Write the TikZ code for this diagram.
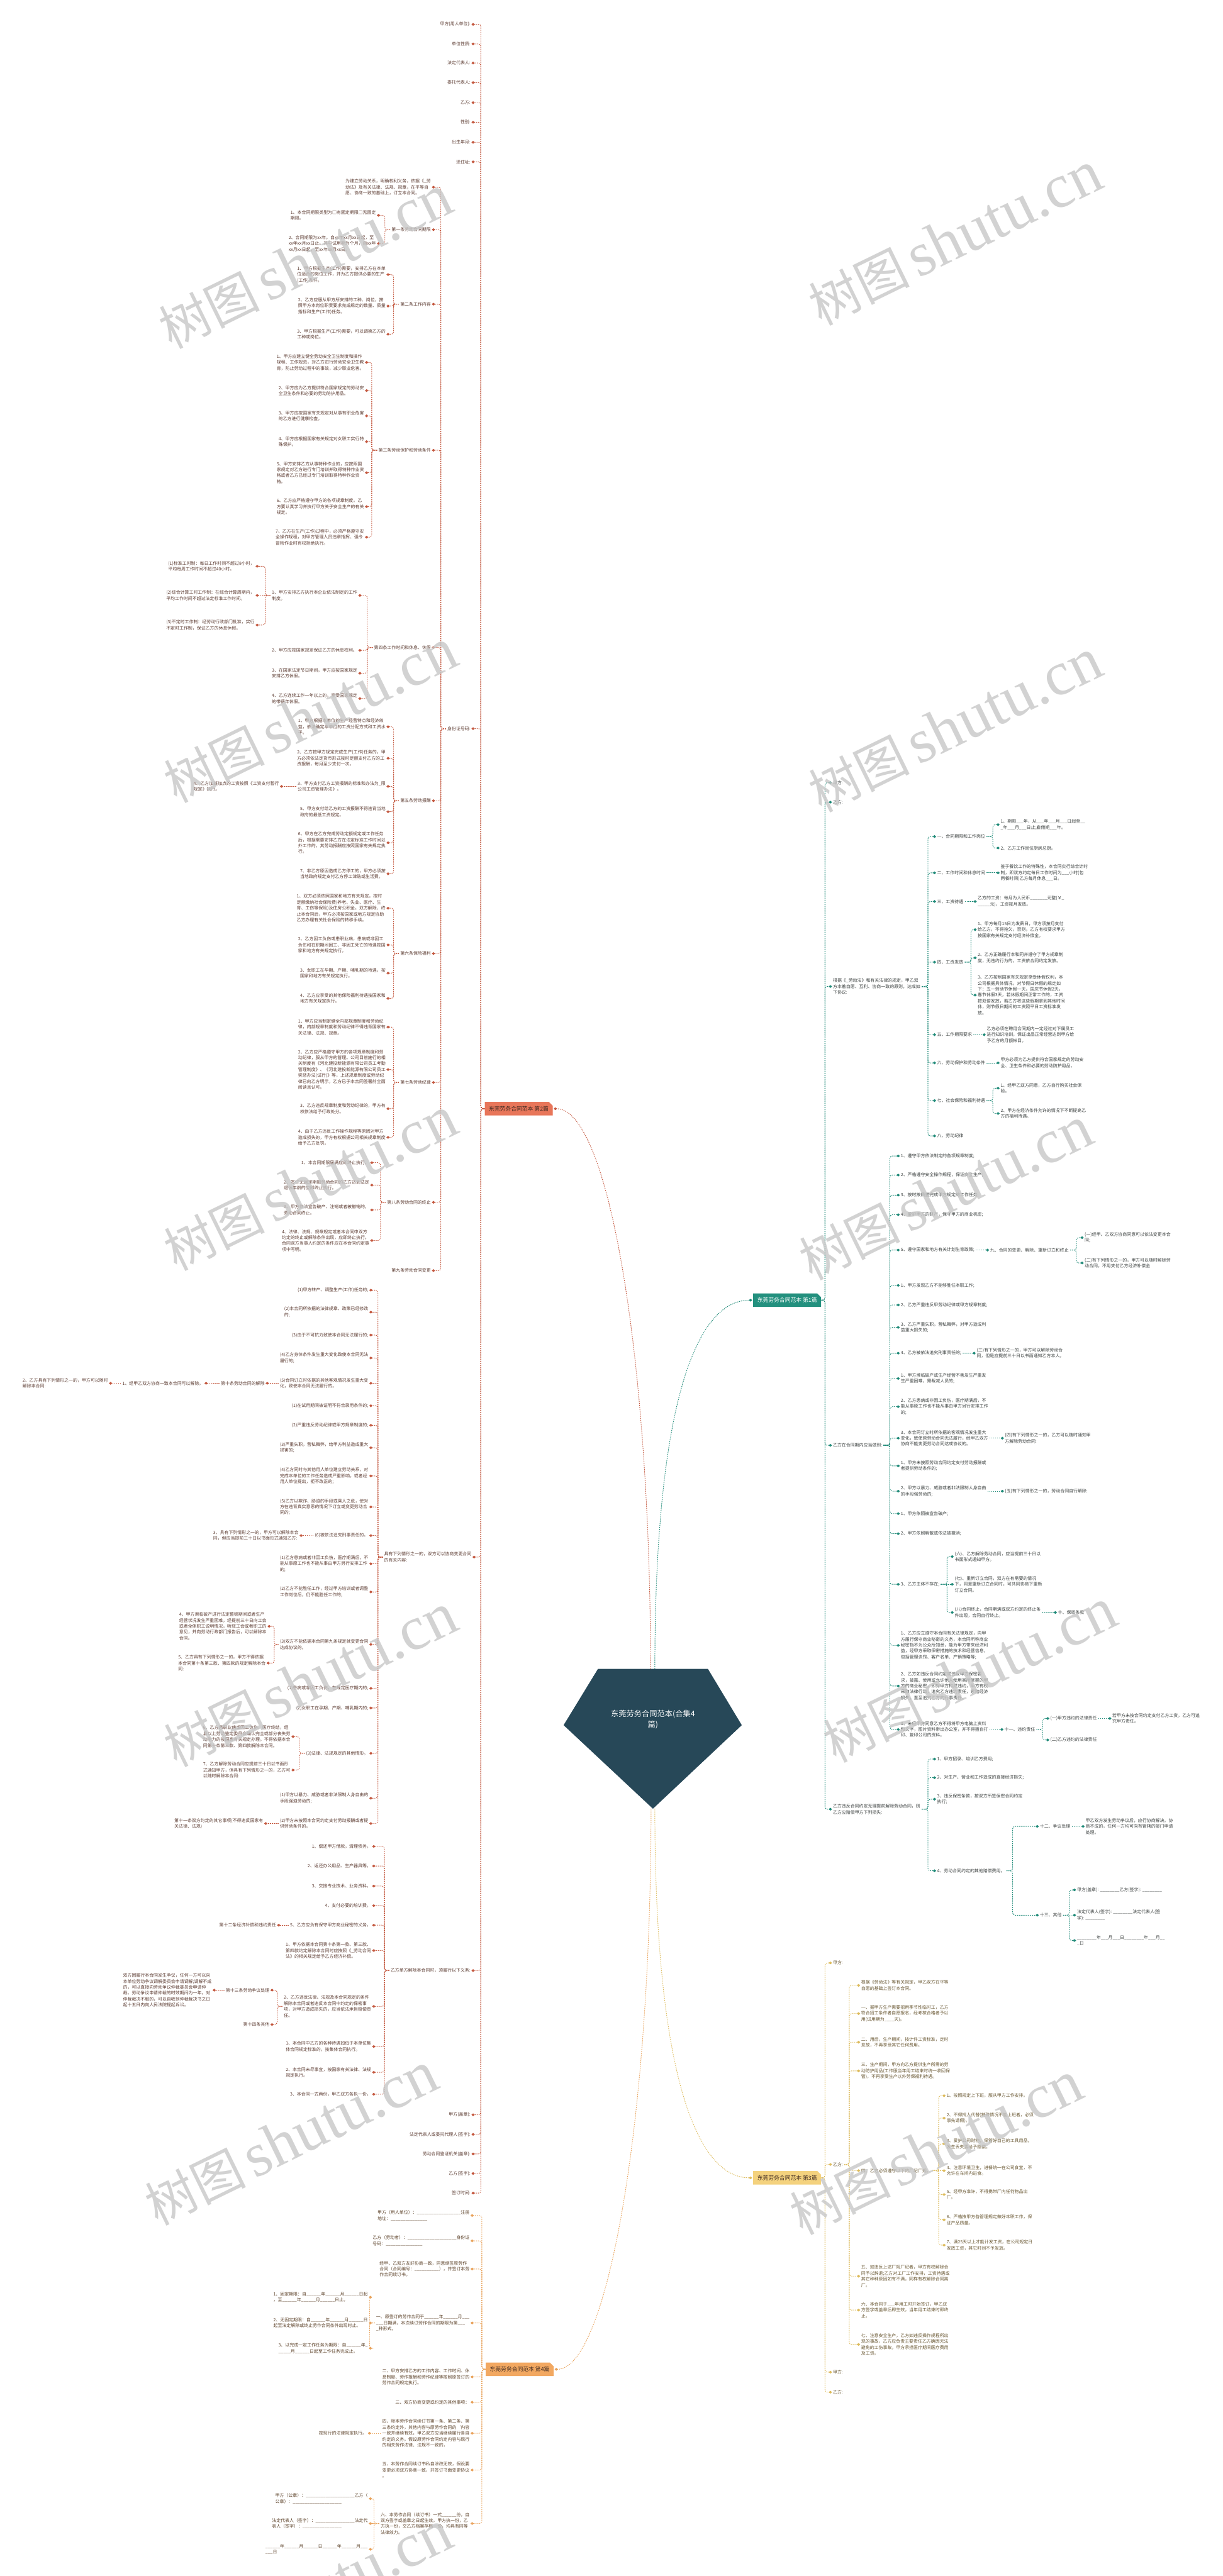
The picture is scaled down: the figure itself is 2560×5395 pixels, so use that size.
\documentclass[tikz,border=0pt]{standalone}
\usepackage{fontspec}
\setmainfont{Noto Sans CJK SC}
\newfontfamily\wmfont{Liberation Serif}
\usepackage{varwidth}
\usetikzlibrary{calc}
\XeTeXlinebreaklocale "zh"
\XeTeXlinebreakskip=0pt plus 1pt
\definecolor{cCen}{HTML}{274858}
\definecolor{lRed}{HTML}{C4583F}
\definecolor{lTeal}{HTML}{1F8A78}
\definecolor{lYel}{HTML}{DDBB5C}
\definecolor{lOra}{HTML}{E9A35C}
\definecolor{fRed}{HTML}{E8765A}
\definecolor{fTeal}{HTML}{23907E}
\definecolor{fYel}{HTML}{F4D27E}
\definecolor{fOra}{HTML}{F2A861}
\definecolor{tRed}{HTML}{5B3A30}
\definecolor{tTeal}{HTML}{3A3F3E}
\definecolor{tYel}{HTML}{66542E}
\definecolor{tOra}{HTML}{5C4128}
\definecolor{hdt}{HTML}{3F2A22}
\pgfdeclarelayer{bg}\pgfsetlayers{bg,main}
\tikzset{
 base/.style={inner sep=0pt,outer sep=0pt,font=\fontsize{13}{17.6}\selectfont},
 tw/.style={base,execute at begin node={\begin{varwidth}{93mm}\raggedright},execute at end node={\end{varwidth}}},
 tx/.style={base,align=left},
 lR/.style={tw,anchor=east,text=tRed}, lRx/.style={tx,anchor=east,text=tRed},
 lO/.style={tw,anchor=east,text=tOra}, lOx/.style={tx,anchor=east,text=tOra},
 rT/.style={tw,anchor=west,text=tTeal}, rTx/.style={tx,anchor=west,text=tTeal},
 rY/.style={tw,anchor=west,text=tYel},
 hdr/.style={inner sep=0pt,minimum width=71mm,minimum height=14mm,font=\fontsize{16.5}{18}\selectfont},
 ctext/.style={inner sep=0pt,align=center,text=white,font=\fontsize{23}{31}\selectfont},
 ln/.style={line width=1.8pt,dash pattern=on 2.8pt off 2.8pt,rounded corners=2.5mm},
 wm/.style={rotate=26,inner sep=0pt,text=black!22,text opacity=0.8}
}
\newcommand\dmE[2]{\fill[#1] ($(#2.east)+(2,0)$) -- ++(3.5,-3) -- ++(3.5,3) -- ++(-3.5,3) -- cycle;}
\newcommand\dmW[2]{\fill[#1] ($(#2.west)+(-2,0)$) -- ++(-3.5,-3) -- ++(-3.5,3) -- ++(3.5,3) -- cycle;}
\newcommand\Lc[4][14]{\draw[ln,draw=#2] ($(#3.west)+(-3,0)$) -- ($(#3.west)+(-#1,0)$) |- ($(#4.east)+(8,0)$); \dmE{#2}{#4}}
\newcommand\Lz[3]{\draw[ln,draw=#1] ($(#2.west)+(-3,0)$) -- ($(#3.east)+(8,0)$); \dmE{#1}{#3}}
\newcommand\Rc[4][16]{\draw[ln,draw=#2] ($(#3.east)+(3,0)$) -- ($(#3.east)+(#1,0)$) |- ($(#4.west)+(-8,0)$); \dmW{#2}{#4}}
\newcommand\Rz[3]{\draw[ln,draw=#1] ($(#2.east)+(3,0)$) -- ($(#3.west)+(-8,0)$); \dmW{#1}{#3}}
\newcommand\hdrbox[2]{\begin{pgfonlayer}{bg}\fill[#2] (#1.south west) -- (#1.north west) -- ($(#1.north east)+(-8,0)$) -- ($(#1.north east)+(0,8)$) -- (#1.south east) -- cycle;\end{pgfonlayer}}
\begin{document}
\catcode`\_=12
\begin{tikzpicture}[x=0.5mm,y=-0.5mm]
\useasboundingbox (0,0) rectangle (2560,5395);
\begin{pgfonlayer}{bg}\fill[white] (0,0) rectangle (2560,5395);\end{pgfonlayer}
% ---------- centre ----------
\fill[cCen] (1252,3495) -- (1482,3495) -- (1553,3613) -- (1367,3788) -- (1180,3613) -- cycle;
\node[ctext] (root) at (1367,3601) {东莞劳务合同范本(合集4\\篇)};
\coordinate (rtR) at (1362,3495); \coordinate (rtT) at (1371,3495);
\coordinate (rbY) at (1371,3788); \coordinate (rbO) at (1363,3788);
% ---------- headers ----------
\node[hdr,text=hdt] (hR) at (1086,2322) {东莞劳务合同范本 第2篇};
\node[hdr,text=hdt] (hO) at (1088,4962) {东莞劳务合同范本 第4篇};
\node[hdr,text=white] (hT) at (1648,2723) {东莞劳务合同范本 第1篇};
\node[hdr,text=hdt] (hY) at (1648,4561) {东莞劳务合同范本 第3篇};
\hdrbox{hR}{fRed}\hdrbox{hO}{fOra}\hdrbox{hT}{fTeal}\hdrbox{hY}{fYel}
\draw[ln,draw=lRed] (rtR) .. controls (1362,2850) and (1275,2322) .. ($(hR.east)+(8,0)$); \dmE{lRed}{hR}
\draw[ln,draw=lTeal] (rtT) .. controls (1371,2950) and (1455,2723) .. ($(hT.west)+(-8,0)$); \dmW{lTeal}{hT}
\draw[ln,draw=lYel] (rbY) .. controls (1371,4330) and (1455,4561) .. ($(hY.west)+(-8,0)$); \dmW{lYel}{hY}
\draw[ln,draw=lOra] (rbO) .. controls (1363,4450) and (1270,4962) .. ($(hO.east)+(8,0)$); \dmE{lOra}{hO}
% ================= 第2篇 (red) =================
\node[lR] (r1) at (985,51) {甲方(用人单位):};
\node[lR] (r2) at (985,92) {单位性质:};
\node[lR] (r3) at (985,132) {法定代表人:};
\node[lR] (r4) at (985,173) {委托代表人:};
\node[lR] (r5) at (985,215) {乙方:};
\node[lR] (r6) at (985,256) {性别:};
\node[lR] (r7) at (985,298) {出生年月:};
\node[lR] (r8) at (985,339) {现住址:};
\node[lR] (r9) at (985,1526) {身份证号码:};
\node[lR] (r10) at (987,3261) {具有下列情形之一的，双方可以协商变更合同的有关内容:};
\node[lR] (r11) at (985,4127) {乙方单方解除本合同时，须履行以下义务:};
\node[lR] (r12) at (985,4429) {甲方(盖章):};
\node[lR] (r13) at (985,4470) {法定代表人或委托代理人(签字):};
\node[lR] (r14) at (985,4511) {劳动合同鉴证机关(盖章):};
\node[lR] (r15) at (985,4552) {乙方(签字):};
\node[lR] (r16) at (985,4593) {签订时间:};
\foreach \nn in {r1,r2,r3,r4,r5,r6,r7,r8,r9,r10,r11,r12,r13,r14,r15,r16} {\Lc[8]{lRed}{hR}{\nn}}
\node[lR] (r9a) at (902,392) {为建立劳动关系，明确权利义务，依据《_劳动法》及有关法律、法规、规章，在平等自愿、协商一致的基础上，订立本合同。};
\node[lR] (r9b) at (902,481) {第一条劳动合同期限};
\node[lR] (r9c) at (902,637) {第二条工作内容};
\node[lR] (r9d) at (902,943) {第三条劳动保护和劳动条件};
\node[lR] (r9e) at (902,1356) {第四条工作时间和休息、休假};
\node[lR] (r9f) at (902,1677) {第五条劳动报酬};
\node[lR] (r9g) at (902,1997) {第六条保险福利};
\node[lR] (r9h) at (902,2267) {第七条劳动纪律};
\node[lR] (r9i) at (902,2518) {第八条劳动合同的终止};
\node[lR] (r9j) at (902,2661) {第九条劳动合同变更};
\foreach \nn in {r9a,r9b,r9c,r9d,r9e,r9f,r9g,r9h,r9i,r9j} {\Lc{lRed}{r9}{\nn}}
\node[lR] (b1) at (787,451) {1、本合同期限类型为□有固定期限□无固定期限。};
\node[lR] (b2) at (787,510) {2、合同期限为xx年。自xx年xx月xx日起，至xx年xx月xx日止。其中试用期为个月，自xx年xx月xx日起，至xx年xx月xx日。};
\foreach \nn in {b1,b2} {\Lc{lRed}{r9b}{\nn}}
\node[lR] (c1) at (807,575) {1、甲方根据生产(工作)需要，安排乙方在本单位适合的岗位工作，并为乙方提供必要的生产(工作)条件。};
\node[lR] (c2) at (807,641) {2、乙方应服从甲方所安排的工种、岗位，按照甲方本岗位职责要求完成规定的数量、质量指标和生产(工作)任务。};
\node[lR] (c3) at (807,700) {3、甲方根据生产(工作)需要，可以调换乙方的工种或岗位。};
\foreach \nn in {c1,c2,c3} {\Lc{lRed}{r9c}{\nn}}
\node[lR] (d1) at (762,759) {1、甲方应建立健全劳动安全卫生制度和操作规程、工作规范，对乙方进行劳动安全卫生教育，防止劳动过程中的事故，减少职业危害。};
\node[lR] (d2) at (762,818) {2、甲方应为乙方提供符合国家规定的劳动安全卫生条件和必要的劳动防护用品。};
\node[lR] (d3) at (762,871) {3、甲方应按国家有关规定对从事有职业危害的乙方进行健康检查。};
\node[lR] (d4) at (762,925) {4、甲方应根据国家有关规定对女职工实行特殊保护。};
\node[lR] (d5) at (762,990) {5、甲方安排乙方从事特种作业的，应按照国家规定对乙方进行专门培训并取得特种作业资格或者乙方已经过专门培训取得特种作业资格。};
\node[lR] (d6) at (762,1061) {6、乙方应严格遵守甲方的各项规章制度。乙方要认真学习并执行甲方关于安全生产的有关规定。};
\node[lR] (d7) at (762,1125) {7、乙方在生产(工作)过程中，必须严格遵守安全操作规程，对甲方管理人员违章指挥、强令冒险作业时有权拒绝执行。};
\foreach \nn in {d1,d2,d3,d4,d5,d6,d7} {\Lc{lRed}{r9d}{\nn}}
\node[lR] (e1) at (748,1247) {1、甲方安排乙方执行本企业依法制定的工作制度。};
\node[lR] (e2) at (748,1362) {2、甲方应按国家规定保证乙方的休息权利。};
\node[lR] (e3) at (748,1410) {3、在国家法定节日期间，甲方应按国家规定安排乙方休假。};
\node[lR] (e4) at (748,1463) {4、乙方连续工作一年以上的，享受国家规定的带薪年休假。};
\foreach \nn in {e1,e2,e3,e4} {\Lc{lRed}{r9e}{\nn}}
\node[lR] (e1a) at (533,1186) {(1)标准工时制：每日工作时间不超过8小时，平均每周工作时间不超过40小时。};
\node[lR] (e1b) at (533,1247) {(2)综合计算工时工作制：在综合计算周期内，平均工作时间不超过法定标准工作时间。};
\node[lR] (e1c) at (533,1309) {(3)不定时工作制：经劳动行政部门批准，实行不定时工作制，保证乙方的休息休假。};
\Lc{lRed}{e1}{e1a} \Lz{lRed}{e1}{e1b} \Lc{lRed}{e1}{e1c}
\node[lR] (f1) at (807,1522) {1、甲方根据本单位的生产经营特点和经济效益，依法确定本单位的工资分配方式和工资水平。};
\node[lR] (f2) at (807,1588) {2、乙方按甲方规定完成生产(工作)任务的，甲方必须依法定货币形式按时足额支付乙方的工资报酬，每月至少支付一次。};
\node[lR] (f3) at (807,1647) {3、甲方支付乙方工资报酬的标准和办法为_限公司工资管理办法》。};
\node[lR] (f5) at (807,1700) {5、甲方支付给乙方的工资报酬不得违背当地政府的最低工资规定。};
\node[lR] (f6) at (807,1765) {6、甲方在乙方完成劳动定额规定或工作任务后，根据需要安排乙方在法定标准工作时间以外工作的，其劳动报酬应按照国家有关规定执行。};
\node[lR] (f7) at (807,1830) {7、非乙方原因造成乙方停工的，甲方必须按当地政府规定支付乙方停工津贴或生活费。};
\foreach \nn in {f1,f2,f3,f5,f6,f7} {\Lc{lRed}{r9f}{\nn}}
\node[lR] (f3a) at (584,1647) {4、乙方加班加点的工资按照《工资支付暂行规定》执行。};
\Lz{lRed}{f3}{f3a}
\node[lR] (g1) at (807,1902) {1、双方必须依照国家和地方有关规定，按时足额缴纳社会保险费(养老、失业、医疗、生育、工伤等保险)及住房公积金。双方解除、终止本合同后，甲方必须按国家或地方规定协助乙方办理有关社会保险的转移手续。};
\node[lR] (g2) at (807,1979) {2、乙方因工负伤或患职业病，患病或非因工负伤和在职期间因工、非因工死亡的待遇按国家和地方有关规定执行。};
\node[lR] (g3) at (807,2038) {3、女职工在孕期、产期、哺乳期的待遇，按国家和地方有关规定执行。};
\node[lR] (g4) at (807,2091) {4、乙方应享受的其他保险福利待遇按国家和地方有关规定执行。};
\foreach \nn in {g1,g2,g3,g4} {\Lc{lRed}{r9g}{\nn}}
\node[lR] (h1) at (807,2151) {1、甲方应当制定健全内部规章制度和劳动纪律，内部规章制度和劳动纪律不得违背国家有关法律、法规、规章。};
\node[lR] (h2) at (807,2240) {2、乙方应严格遵守甲方的各项规章制度和劳动纪律，服从甲方的管理。公司目前施行的相关制度有《河北建投新能源有限公司员工考勤管理制度》、《河北建投新能源有限公司员工奖惩办法(试行)》等，上述规章制度或劳动纪律已向乙方明示，乙方已于本合同签署前全面阅读且认可。};
\node[lR] (h3) at (807,2322) {3、乙方违反规章制度和劳动纪律的，甲方有权依法给予行政处分。};
\node[lR] (h4) at (807,2382) {4、由于乙方违反工作操作规程等原因对甲方造成损失的，甲方有权根据公司相关规章制度给予乙方处罚。};
\foreach \nn in {h1,h2,h3,h4} {\Lc{lRed}{r9h}{\nn}}
\node[lR] (i1) at (773,2435) {1、本合同期限届满应即终止执行。};
\node[lR] (i2) at (773,2482) {2、签订无固定期限劳动合同的乙方达到法定退休年龄的应即终止执行。};
\node[lR] (i3) at (773,2534) {3、甲方依法宣告破产、注销或者被撤销的，劳动合同终止。};
\node[lR] (i4) at (773,2598) {4、法律、法规、规章规定或者本合同中双方约定的终止或解除条件出现，应即终止执行。合同双方当事人约定的条件应在本合同约定事项中写明。};
\foreach \nn in {i1,i2,i3,i4} {\Lc{lRed}{r9i}{\nn}}
% r10 children
\node[lR] (k1) at (771,2702) {(1)甲方转产、调整生产(工作)任务的;};
\node[lR] (k2) at (771,2748) {(2)本合同所依据的法律规章、政策已经修改的;};
\node[lR] (k3) at (771,2796) {(3)由于不可抗力致使本合同无法履行的;};
\node[lR] (k4) at (771,2844) {(4)乙方身体条件发生重大变化致使本合同无法履行的;};
\node[lR] (k5) at (771,2897) {(5)合同订立时依据的其他客观情况发生重大变化，致使本合同无法履行的。};
\node[lR] (k6) at (771,2944) {(1)在试用期间被证明不符合录用条件的;};
\node[lR] (k7) at (771,2985) {(2)严重违反劳动纪律或甲方规章制度的;};
\node[lR] (k8) at (771,3032) {(3)严重失职，营私舞弊，给甲方利益造成重大损害的;};
\node[lR] (k9) at (771,3091) {(4)乙方同时与其他用人单位建立劳动关系，对完成本单位的工作任务造成严重影响，或者经用人单位提出，拒不改正的;};
\node[lR] (k10) at (771,3156) {(5)乙方以欺诈、胁迫的手段或乘人之危，使对方在违背真实意思的情况下订立或变更劳动合同的;};
\node[lR] (k11) at (771,3216) {(6)被依法追究刑事责任的。};
\node[lR] (k12) at (771,3275) {(1)乙方患病或者非因工负伤，医疗期满后，不能从事原工作也不能从事由甲方另行安排工作的;};
\node[lR] (k13) at (771,3334) {(2)乙方不能胜任工作，经过甲方培训或者调整工作岗位后，仍不能胜任工作的;};
\node[lR] (k14) at (771,3444) {(3)双方不能依据本合同第九条规定就变更合同达成协议的。};
\node[lR] (k15) at (771,3536) {(1)患病或非因工负伤，在规定医疗期内的;};
\node[lR] (k16) at (771,3577) {(2)女职工在孕期、产期、哺乳期内的;};
\node[lR] (k17) at (771,3672) {(3)法律、法规规定的其他情形。};
\node[lR] (k18) at (771,3766) {(1)甲方以暴力、威胁或者非法限制人身自由的手段强迫劳动的;};
\node[lR] (k19) at (771,3819) {(2)甲方未按照本合同约定支付劳动报酬或者提供劳动条件的。};
\foreach \nn in {k1,k2,k3,k4,k5,k6,k7,k8,k9,k10,k11,k12,k13,k14,k15,k16,k17,k18,k19} {\Lc[13]{lRed}{r10}{\nn}}
\node[lR] (k5a) at (554,2897) {第十条劳动合同的解除};
\node[lR] (k5b) at (426,2897) {1、经甲乙双方协商一致本合同可以解除。};
\node[lR] (k5c) at (226,2897) {2、乙方具有下列情形之一的，甲方可以随时解除本合同:};
\Lz{lRed}{k5}{k5a} \Lz{lRed}{k5a}{k5b} \Lz{lRed}{k5b}{k5c}
\node[lR] (k11a) at (625,3216) {3、具有下列情形之一的，甲方可以解除本合同，但应当提前三十日以书面形式通知乙方:};
\Lz{lRed}{k11}{k11a}
\node[lR] (k14a) at (558,3406) {4、甲方濒临破产进行法定整顿期间或者生产经营状况发生严重困难，经提前三十日向工会或者全体职工说明情况，听取工会或者职工的意见，并向劳动行政部门报告后，可以解除本合同。};
\node[lR] (k14b) at (556,3483) {5、乙方具有下列情形之一的，甲方不得依据本合同第十条第三款、第四款的规定解除本合同:};
\Lc[12]{lRed}{k14}{k14a} \Lc[12]{lRed}{k14}{k14b}
\node[lR] (k17a) at (608,3637) {6、乙方患职业病或因工负伤，医疗终结，经县以上劳动鉴定委员会确认完全或部分丧失劳动能力的按国家有关规定办理。不得依据本合同第十条第三款、第四款解除本合同。};
\node[lR] (k17b) at (608,3707) {7、乙方解除劳动合同应提前三十日以书面形式通知甲方，但具有下列情形之一的，乙方可以随时解除本合同:};
\Lc{lRed}{k17}{k17a} \Lc{lRed}{k17}{k17b}
\node[lR] (k19a) at (551,3819) {第十一条双方约定的其它事项(不得违反国家有关法律、法规)};
\Lz{lRed}{k19}{k19a}
% r11 children
\node[lR] (m1) at (777,3867) {1、偿还甲方借款，清理债务。};
\node[lR] (m2) at (777,3908) {2、返还办公用品、生产器具等。};
\node[lR] (m3) at (777,3950) {3、交接专业技术、业务资料。};
\node[lR] (m4) at (777,3991) {4、支付必要的培训费。};
\node[lR] (m5) at (777,4032) {5、乙方应负有保守甲方商业秘密的义务。};
\node[lR] (m6) at (777,4085) {1、甲方依据本合同第十条第一款、第三款、第四款约定解除本合同时应按照《_劳动合同法》的相关规定给予乙方经济补偿。};
\node[lR] (m7) at (777,4202) {2、乙方违反法律、法规及本合同规定的条件解除本合同或者违反本合同中约定的保密事项，对甲方造成损失的，应当依法承担赔偿责任。};
\node[lR] (m8) at (777,4286) {1、本合同中乙方的各种待遇如低于本单位集体合同规定标准的，按集体合同执行。};
\node[lR] (m9) at (777,4340) {2、本合同未尽事宜，按国家有关法律、法规规定执行。};
\node[lR] (m10) at (777,4386) {3、本合同一式两份，甲乙双方各执一份。};
\foreach \nn in {m1,m2,m3,m4,m5,m6,m7,m8,m9,m10} {\Lc[13]{lRed}{r11}{\nn}}
\node[lR] (m5a) at (578,4032) {第十二条经济补偿和违约责任};
\Lz{lRed}{m5}{m5a}
\node[lR] (m7a) at (564,4168) {第十三条劳动争议处理};
\node[lR] (m7b) at (564,4240) {第十四条其他};
\Lc{lRed}{m7}{m7a} \Lc{lRed}{m7}{m7b}
\node[lR] (m7c) at (443,4168) {双方因履行本合同发生争议，任何一方可以向本单位劳动争议调解委员会申请调解;调解不成的，可以直接向劳动争议仲裁委员会申请仲裁。劳动争议申请仲裁的时效期间为一年。对仲裁裁决不服的，可以自收到仲裁裁决书之日起十五日内向人民法院提起诉讼。};
\Lz{lRed}{m7a}{m7c}
% ================= 第4篇 (orange) =================
\node[lOx] (o1) at (983,4640) {甲方（用人单位）：__________________注册\\地址：_______________};
\node[lOx] (o2) at (983,4693) {乙方（劳动者）：____________________身份证\\号码：_______________};
\node[lOx] (o3) at (983,4752) {经甲、乙双方友好协商一致，同意续签原劳作\\合同（合同编号：__________），并签订本劳\\作合同续订书。};
\node[lOx] (o4) at (983,4865) {一、原签订的劳作合同于______年______月___\\___日期满，本次续订劳作合同的期限为第___\\_种形式。};
\node[lOx] (o5) at (983,4978) {二、甲方安排乙方的工作内容、工作时间、休\\息制度、劳作报酬和劳作纪律等按照原签订的\\劳作合同规定执行。};
\node[lO] (o6) at (983,5031) {三、双方协商变更或约定的其他事项：};
\node[lOx] (o7) at (983,5096) {四、除本劳作合同续订书第一条、第二条、第\\三条约定外，其他内容与原劳作合同的`内容\\一致并继续有效，甲乙双方应当继续履行各自\\约定的义务。假设原劳作合同约定内容与现行\\的相关劳作法律、法规不一致的，};
\node[lOx] (o8) at (983,5173) {五、本劳作合同续订书私自涂改无效，假设要\\变更必须双方协商一致，并签订书面变更协议\\。};
\node[lOx] (o9) at (983,5285) {六、本劳作合同（续订书）一式______份，自\\双方签字或盖章之日起生效。甲方执一份，乙\\方执一份，交乙方档案存档一份，均具有同等\\法律效力。};
\foreach \nn in {o1,o2,o3,o4,o5,o6,o7,o8,o9} {\Lc[8]{lOra}{hO}{\nn}}
\node[lOx] (o4a) at (770,4811) {1、固定期限：自______年______月______日起\\，至______年______月______日止。};
\node[lOx] (o4b) at (770,4865) {2、无固定期限：自______年______月______日\\起至法定解除或终止劳作合同条件出现时止。};
\node[lOx] (o4c) at (770,4918) {3、以完成一定工作任务为期限：自______年_\\_____月______日起至工作任务完成止。};
\Lc{lOra}{o4}{o4a} \Lz{lOra}{o4}{o4b} \Lc{lOra}{o4}{o4c}
\node[lO] (o7a) at (768,5096) {按现行的法律规定执行。};
\Lz{lOra}{o7}{o7a}
\node[lOx] (o9a) at (770,5233) {甲方（公章）：____________________乙方（\\公章）：____________________};
\node[lOx] (o9b) at (770,5285) {法定代表人（签字）：________________法定代\\表人（签字）：________________};
\node[lOx] (o9c) at (770,5339) {______年______月______日______年______月___\\___日};
\Lc{lOra}{o9}{o9a} \Lz{lOra}{o9}{o9b} \Lc{lOra}{o9}{o9c}
% ================= 第1篇 (teal) =================
\node[rT] (t1) at (1744,1639) {甲方:};
\node[rT] (t2) at (1744,1680) {乙方:};
\node[rT] (t3) at (1744,2066) {根据《_劳动法》和有关法律的规定，甲乙双方本着自愿、互利、协商一致的原则，达成如下协议:};
\node[rT] (t4) at (1744,3027) {乙方在合同期内应当做到:};
\node[rT] (t5) at (1744,3789) {乙方违反合同约定无理提前解除劳动合同，则乙方应赔偿甲方下列损失:};
\foreach \nn in {t1,t2,t3,t4,t5} {\Rc[8]{lTeal}{hT}{\nn}}
\node[rT] (t3a) at (1962,1752) {一、合同期限和工作岗位};
\node[rT] (t3b) at (1962,1828) {二、工作时间和休息时间};
\node[rT] (t3c) at (1962,1888) {三、工资待遇};
\node[rT] (t3d) at (1962,2015) {四、工资发放};
\node[rT] (t3e) at (1962,2167) {五、工作期限要求};
\node[rT] (t3f) at (1962,2226) {六、劳动保护和劳动条件};
\node[rT] (t3g) at (1962,2305) {七、社会保险和福利待遇};
\node[rT] (t3h) at (1962,2379) {八、劳动纪律};
\foreach \nn in {t3a,t3b,t3c,t3d,t3e,t3f,t3g,t3h} {\Rc{lTeal}{t3}{\nn}}
\node[rTx] (t3a1) at (2095,1727) {1、期限___年，从___年___月___日起至__\\_年___月___日止;雇佣期___年。};
\node[rT] (t3a2) at (2095,1776) {2、乙方工作岗位厨房总厨。};
\Rc{lTeal}{t3a}{t3a1} \Rc{lTeal}{t3a}{t3a2}
\node[rTx] (t3b1) at (2095,1828) {鉴于餐饮工作的特殊性，本合同实行综合计时\\制，即双方约定每日工作时间为___小时(包\\两餐时间)乙方每月休息___日。};
\Rz{lTeal}{t3b}{t3b1}
\node[rTx] (t3c1) at (2047,1888) {乙方的工资：每月为人民币_______元整(￥_\\_____元)，工资按月发放。};
\Rz{lTeal}{t3c}{t3c1}
\node[rT] (t3d1) at (2047,1947) {1、甲方每月15日为发薪日，甲方须按月支付给乙方，不得拖欠，否则，乙方有权要求甲方按国家有关规定支付经济补偿金。};
\node[rT] (t3d2) at (2047,2006) {2、乙方正确履行本和同并遵守了甲方规章制度，无违约行为的，工资依合同约定发放。};
\node[rT] (t3d3) at (2047,2084) {3、乙方按照国家有关规定享受休假仅利，本公司根据具体情况，对节假日休假的规定如下：五一劳动节休假一天，国庆节休假2天，春节休假3天，若休假期间正常工作的，工资按双倍发放，若乙方将这些假期拿到其他时间休，则节假日期间的工资照平日工资标准发放。};
\foreach \nn in {t3d1,t3d2,t3d3} {\Rc{lTeal}{t3d}{\nn}}
\node[rT] (t3e1) at (2066,2167) {乙方必须在聘用合同期内一定经过对下属员工进行知识培训，保证出品正常经营达到甲方给予乙方的月额帐目。};
\Rz{lTeal}{t3e}{t3e1}
\node[rT] (t3f1) at (2095,2226) {甲方必须为乙方提供符合国家规定的劳动安全、卫生条件和必要的劳动防护用品。};
\Rz{lTeal}{t3f}{t3f1}
\node[rT] (t3g1) at (2095,2279) {1、经甲乙双方同意，乙方自行购买社会保险。};
\node[rT] (t3g2) at (2095,2332) {2、甲方在经济条件允许的情况下不断提高乙方的福利待遇。};
\Rc{lTeal}{t3g}{t3g1} \Rc{lTeal}{t3g}{t3g2}
\node[rT] (u1) at (1886,2421) {1、遵守甲方依法制定的各项规章制度;};
\node[rT] (u2) at (1886,2461) {2、严格遵守安全操作规程，保证安全生产;};
\node[rT] (u3) at (1886,2503) {3、按时按质量完成甲方规定的工作任务;};
\node[rT] (u4) at (1886,2544) {4、爱护甲方的财产，保守甲方的商业机密;};
\node[rT] (u5) at (1886,2618) {5、遵守国家和地方有关计划生育政策;};
\node[rT] (u6) at (1886,2692) {1、甲方发现乙方不能够胜任本职工作;};
\node[rT] (u7) at (1886,2733) {2、乙方严重违反甲劳动纪律或甲方规章制度;};
\node[rT] (u8) at (1886,2780) {3、乙方严重失职，营私舞弊，对甲方造成利益重大损失的;};
\node[rT] (u9) at (1886,2834) {4、乙方被依法追究刑事责任的;};
\node[rT] (u10) at (1886,2887) {1、甲方濒临破产或生产经营不善发生严重发生严重困难，需裁减人员的;};
\node[rT] (u11) at (1886,2946) {2、乙方患病或非因工负伤，医疗期满后，不能从事原工作也不能从事由甲方另行安排工作的;};
\node[rT] (u12) at (1886,3012) {3、本合同订立时所依据的客观情况发生重大变化，致使原劳动合同无法履行，经甲乙双方协商不能变更劳动合同达成协议的。};
\node[rT] (u13) at (1886,3070) {1、甲方未按照劳动合同约定支付劳动报酬或者提供劳动条件的;};
\node[rT] (u14) at (1886,3123) {2、甲方以暴力、威胁或者非法限制人身自由的手段强劳动的;};
\node[rT] (u15) at (1886,3170) {1、甲方依照被宣告破产;};
\node[rT] (u16) at (1886,3212) {2、甲方依照解散或依法被撤消;};
\node[rT] (u17) at (1886,3318) {3、乙方主体不存在;};
\node[rT] (u18) at (1886,3446) {1、乙方应立遵守本合同有关法律规定，向甲方履行保守商业秘密的义务，本合同所称商业秘密指不为公众所知悉，能为甲方带来经济利益，经甲方采取保密措施的技术和经营信息，包括管理诀窍、客户名单、产销策略等;};
\node[rT] (u19) at (1886,3531) {2、乙方如违反合同约定或违反甲方保密要求，披露、使用或允许他人使用其所掌握的甲方的商业秘密，即对甲方构成违约，甲方有权采取法律行动，追究乙方违约责任，索赔经济损失，直至追究乙方的行事责任。};
\node[rT] (u20) at (1886,3622) {3、未经甲方同意乙方不得将甲方电脑上资料和文字，图片资料带出办公室，并不得擅自打印、复印公司的资料。};
\foreach \nn in {u1,u2,u3,u4,u5,u6,u7,u8,u9,u10,u11,u12,u13,u14,u15,u16,u17,u18,u19,u20} {\Rc{lTeal}{t4}{\nn}}
\node[rT] (u5a) at (2073,2618) {九、合同的变更、解除、重新订立和终止};
\Rz{lTeal}{u5}{u5a}
\node[rT] (u5b) at (2271,2592) {(一)经甲、乙双方协商同意可以依法变更本合同;};
\node[rT] (u5c) at (2271,2645) {(二)有下列情形之一的，甲方可以随时解除劳动合同，不用支付乙方经济补偿金};
\Rc{lTeal}{u5a}{u5b} \Rc{lTeal}{u5a}{u5c}
\node[rT] (u9a) at (2045,2834) {(三)有下列情形之一的，甲方可以解除劳动合同，但是应提前三十日以书面通知乙方本人。};
\Rz{lTeal}{u9}{u9a}
\node[rT] (u12a) at (2104,3012) {(四)有下列情形之一的，乙方可以随时通知甲方解除劳动合同:};
\Rz{lTeal}{u12}{u12a}
\node[rT] (u14a) at (2104,3123) {(五)有下列情形之一的，劳动合同自行解除:};
\Rz{lTeal}{u14}{u14a}
\node[rT] (u17a) at (1999,3260) {(六)、乙方解除劳动合同，应当提前三十日以书面形式通知甲方。};
\node[rT] (u17b) at (1999,3318) {(七)、重新订立合同，双方在有需要的情况下，同意重新订立合同时，可共同协商下重新订立合同。};
\node[rT] (u17c) at (1999,3377) {(八)合同终止，合同期满或双方约定的终止条件出现，合同自行终止。};
\Rc{lTeal}{u17}{u17a} \Rz{lTeal}{u17}{u17b} \Rc{lTeal}{u17}{u17c}
\node[rT] (u17d) at (2215,3377) {十、保密条款};
\Rz{lTeal}{u17c}{u17d}
\node[rT] (u20a) at (2103,3622) {十一、违约责任};
\Rz{lTeal}{u20}{u20a}
\node[rT] (u20b) at (2199,3599) {(一)甲方违约的法律责任};
\node[rT] (u20c) at (2199,3644) {(二)乙方违约的法律责任};
\Rc{lTeal}{u20a}{u20b} \Rc{lTeal}{u20a}{u20c}
\node[rT] (u20d) at (2329,3599) {若甲方未按合同约定支付乙方工资，乙方可追究甲方责任。};
\Rz{lTeal}{u20b}{u20d}
\node[rT] (v1) at (1962,3684) {1、甲方招录、培训乙方费用;};
\node[rT] (v2) at (1962,3723) {2、对生产、营业和工作造成的直接经济损失;};
\node[rT] (v3) at (1962,3768) {3、违反保密条款，按双方所签保密合同约定执行;};
\node[rT] (v4) at (1962,3918) {4、劳动合同约定的其他赔偿费用。};
\foreach \nn in {v1,v2,v3,v4} {\Rc{lTeal}{t5}{\nn}}
\node[rT] (v4a) at (2177,3825) {十二、争议处理};
\node[rT] (v4b) at (2177,4011) {十三、其他};
\Rc{lTeal}{v4}{v4a} \Rc{lTeal}{v4}{v4b}
\node[rT] (v4c) at (2273,3825) {甲乙双方发生劳动争议后，应行协商解决。协商不成的，任何一方均可向有管辖的部门申请处理。};
\Rz{lTeal}{v4a}{v4c}
\node[rTx] (v4d) at (2255,3958) {甲方(盖章): ________乙方(签字): ________};
\node[rTx] (v4e) at (2255,4011) {法定代表人(签字): ________法定代表人(签\\字): ________};
\node[rTx] (v4f) at (2255,4064) {________年___月___日________年___月__\\_日};
\Rc{lTeal}{v4b}{v4d} \Rz{lTeal}{v4b}{v4e} \Rc{lTeal}{v4b}{v4f}
% ================= 第3篇 (yellow) =================
\node[rY] (y1) at (1744,4111) {甲方:};
\node[rY] (y2) at (1744,4533) {乙方:};
\node[rY] (y3) at (1744,4968) {甲方:};
\node[rY] (y4) at (1744,5010) {乙方:};
\foreach \nn in {y1,y2,y3,y4} {\Rc[8]{lYel}{hY}{\nn}}
\node[rY] (y2a) at (1803,4158) {根据《劳动法》等有关规定，甲乙双方在平等自愿的基础上签订本合同。};
\node[rY] (y2b) at (1803,4217) {一、据甲方生产需要招用季节性临时工，乙方符合招工条件者自愿报名，经考核合格者予以用(试用期为____天)。};
\node[rY] (y2c) at (1803,4277) {二、用后，生产期间，按计件工资标准，定时发放，不再享受其它任何费用。};
\node[rY] (y2d) at (1803,4337) {三、生产期间，甲方向乙方提供生产所需的劳动防护用品(工作服当年用工结束时统一收回保管)，不再享受生产以外劳保福利待遇。};
\node[rY] (y2e) at (1803,4546) {四、乙方必须遵守以下的厂纪厂规。};
\node[rY] (y2f) at (1803,4767) {五、如违反上述厂规厂纪者，甲方有权解除合同予以辞退;乙方对工厂工作安排，工资待遇或其它种种原因如有不满，同样有权解除合同离厂。};
\node[rY] (y2g) at (1803,4838) {六、本合同于___年用工时开始签订，甲乙双方签字或盖章后即生效，当年用工结束时即终止。};
\node[rY] (y2h) at (1803,4910) {七、注意安全生产，乙方如违反操作规程所出现的事故，乙方应负责主要责任乙方确因无法避免的工伤事故，甲方承担医疗期间医疗费用及工资。};
\foreach \nn in {y2a,y2b,y2c,y2d,y2e,y2f,y2g,y2h} {\Rc[13]{lYel}{y2}{\nn}}
\node[rY] (y2e1) at (1982,4389) {1、按照规定上下班，服从甲方工作安排。};
\node[rY] (y2e2) at (1982,4436) {2、不得找人代替(特殊情况不能上班者，必须事先请假)。};
\node[rY] (y2e3) at (1982,4490) {3、爱护公司财物，保管好自己的工具用品。发生丢失要给予赔偿。};
\node[rY] (y2e4) at (1982,4546) {4、注意环境卫生，进餐统一在公司食堂，不允许在车间内进食。};
\node[rY] (y2e5) at (1982,4596) {5、经甲方准许，不得携带厂内任何物品出厂。};
\node[rY] (y2e6) at (1982,4649) {6、严格按甲方各管理规定做好本职工作，保证产品质量。};
\node[rY] (y2e7) at (1982,4702) {7、满25天以上才能计发工资，在公司规定日发放工资，其它时间不予发放。};
\foreach \nn in {y2e1,y2e2,y2e3,y2e5,y2e6,y2e7} {\Rc{lYel}{y2e}{\nn}}
\Rz{lYel}{y2e}{y2e4}
% ---------- watermarks ----------
\foreach \px/\py/\nm in {640/550/w1,650/1500/w2,650/2480/w3,650/3520/w4,610/4480/w5,640/5440/w6,2000/500/w7,2000/1520/w8,1980/2500/w9,2030/3510/w10,1960/4500/w11}
 {\node[wm] (\nm) at (\px,\py) {{\fontsize{150}{150}\selectfont 树图}\hspace{8mm}{\wmfont\fontsize{185}{185}\selectfont shutu.cn}};}
\end{tikzpicture}
\end{document}
